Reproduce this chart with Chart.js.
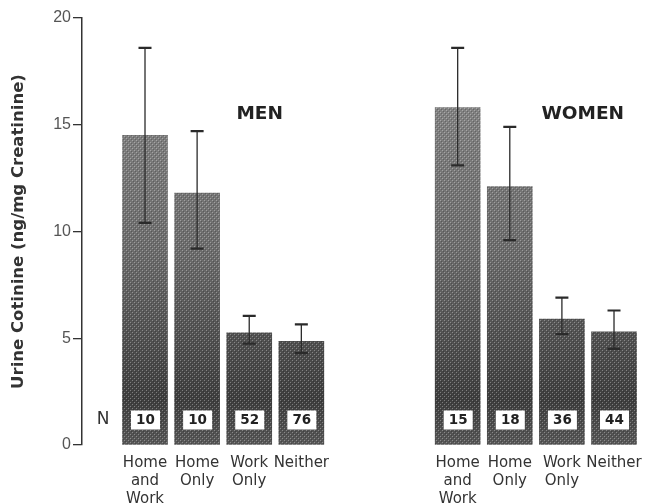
<!DOCTYPE html>
<html>
<head>
<meta charset="utf-8">
<script src="https://cdn.jsdelivr.net/npm/chart.js@4/dist/chart.umd.min.js"></script>
<style>
  html, body { margin: 0; padding: 0; background: #fff; }
  #wrap { width: 657px; height: 504px; }
</style>
</head>
<body>
<div id="wrap"><canvas id="cotChart" width="657" height="504"></canvas></div>
<script>
// categories and tick labels
const categories = ["Home and Work", "Home Only", "Work Only", "Neither"];
const tickLabels = [["Home", "and", "Work"], ["Home", "Only"], ["Work", "Only"], ["Neither"]];
const groups = ["MEN", "WOMEN"];
const yTicks = [0, 5, 10, 15, 20];

// mean urine cotinine (ng/mg creatinine)
const menMeans = [14.5, 11.8, 5.25, 4.85];
const menLow = [10.4, 9.2, 4.75, 4.3];
const menHigh = [18.6, 14.7, 6.05, 5.65];
const menN = [10, 10, 52, 76];

const womenMeans = [15.8, 12.1, 5.9, 5.3];
const womenLow = [13.1, 9.6, 5.2, 4.5];
const womenHigh = [18.6, 14.9, 6.9, 6.3];
const womenN = [15, 18, 36, 44];

// slot of each bar on the x axis: women start after a gap of two slots
const groupGap = 2;
function slotOf(g, i) {
  return g * (categories.length + groupGap) + i;
}
const titleSlot = [2.2, 2.4];

const canvas = document.getElementById("cotChart");
const ctx = canvas.getContext("2d");

// halftone-ish grey fill, darker toward the baseline
function makeFill() {
  const c = document.createElement("canvas");
  c.width = 4;
  c.height = 504;
  const cx = c.getContext("2d");
  const g = cx.createLinearGradient(0, 17, 0, 443);
  g.addColorStop(0, "#8e8e8e");
  g.addColorStop(0.55, "#6c6c6c");
  g.addColorStop(0.9, "#3e3e3e");
  g.addColorStop(1, "#585858");
  cx.fillStyle = g;
  cx.fillRect(0, 0, 4, 504);
  cx.fillStyle = "rgba(255,255,255,0.32)";
  for (let y = 0; y < 504; y += 4) {
    cx.fillRect(0, y, 1, 1);
    cx.fillRect(2, y + 2, 1, 1);
  }
  cx.fillStyle = "rgba(0,0,0,0.2)";
  for (let y = 0; y < 504; y += 4) {
    cx.fillRect(1, y + 1, 1, 1);
    cx.fillRect(3, y + 3, 1, 1);
  }
  return ctx.createPattern(c, "repeat");
}
const barFill = makeFill();

const seriesList = [
  { means: menMeans, low: menLow, high: menHigh, n: menN },
  { means: womenMeans, low: womenLow, high: womenHigh, n: womenN },
];

const slotTicks = {};
seriesList.forEach((s, g) => {
  categories.forEach((c, i) => { slotTicks[slotOf(g, i)] = tickLabels[i]; });
});

const extrasPlugin = {
  id: "extras",
  afterDatasetsDraw(chart) {
    const c = chart.ctx;
    const x = chart.scales.x;
    const y = chart.scales.y;
    c.save();

    // error bars
    c.strokeStyle = "#2a2a2a";
    seriesList.forEach((s, g) => {
      s.means.forEach((m, i) => {
        const px = x.getPixelForValue(slotOf(g, i));
        const top = y.getPixelForValue(s.high[i]);
        const bot = y.getPixelForValue(s.low[i]);
        c.lineWidth = 1.3;
        c.beginPath();
        c.moveTo(px, top);
        c.lineTo(px, bot);
        c.stroke();
        c.lineWidth = 2.2;
        c.beginPath();
        c.moveTo(px - 6.5, top);
        c.lineTo(px + 6.5, top);
        c.moveTo(px - 6.5, bot);
        c.lineTo(px + 6.5, bot);
        c.stroke();
      });
    });

    // N boxes
    const boxY = y.bottom - 25;
    c.font = "bold 13.5px 'DejaVu Sans'";
    c.textAlign = "center";
    c.textBaseline = "middle";
    seriesList.forEach((s, g) => {
      s.n.forEach((n, i) => {
        const px = x.getPixelForValue(slotOf(g, i));
        c.fillStyle = "#fff";
        c.fillRect(px - 14, boxY - 9.5, 29, 19);
        c.fillStyle = "#222";
        c.fillText(String(n), px + 0.5, boxY + 0.5);
      });
    });
    c.font = "17px 'DejaVu Sans'";
    c.fillStyle = "#333";
    c.fillText("N", 103, boxY);

    // group titles
    c.font = "bold 18.5px 'DejaVu Sans'";
    c.fillStyle = "#222";
    groups.forEach((name, g) => {
      c.fillText(name, x.getPixelForValue(slotOf(g, titleSlot[g])), y.getPixelForValue(15.5));
    });
    c.restore();
  },
};

new Chart(canvas, {
  type: "bar",
  data: {
    datasets: seriesList.map((s, g) => ({
      label: groups[g],
      data: s.means.map((m, i) => ({ x: slotOf(g, i), y: m })),
      backgroundColor: barFill,
      borderWidth: 0,
      barThickness: 45,
      grouped: false,
    })),
  },
  options: {
    responsive: false,
    animation: false,
    layout: { padding: { top: 18, right: 10, left: 0, bottom: 0 } },
    plugins: {
      legend: { display: false },
      tooltip: { enabled: false },
    },
    scales: {
      x: {
        type: "linear",
        min: -1.209,
        max: 9.633,
        offset: false,
        grid: { display: false, drawTicks: false },
        border: { display: false },
        afterBuildTicks: (scale) => {
          scale.ticks = Object.keys(slotTicks).map((v) => ({ value: Number(v) }));
        },
        afterFit: (scale) => { scale.height = 59; },
        ticks: {
          autoSkip: false,
          maxRotation: 0,
          padding: 9,
          color: "#333",
          font: { family: "'DejaVu Sans'", size: 15, lineHeight: 1.2 },
          callback: (v) => slotTicks[v] || "",
        },
      },
      y: {
        min: 0,
        max: 20,
        afterBuildTicks: (scale) => {
          scale.ticks = yTicks.map((v) => ({ value: v }));
        },
        afterFit: (scale) => { scale.width = 82; },
        grid: {
          display: true,
          drawOnChartArea: false,
          drawTicks: true,
          tickLength: 9,
          color: "#333",
          lineWidth: 1.3,
        },
        border: { display: true, color: "#333", width: 1.5 },
        ticks: {
          padding: 2,
          color: "#555",
          font: { family: "'Liberation Sans'", size: 16 },
        },
        title: {
          display: true,
          text: "Urine Cotinine (ng/mg Creatinine)",
          color: "#333",
          padding: { top: 9, bottom: 0 },
          font: { family: "'DejaVu Sans'", size: 16.5, weight: "bold" },
        },
      },
    },
  },
  plugins: [extrasPlugin],
});
</script>
</body>
</html>
